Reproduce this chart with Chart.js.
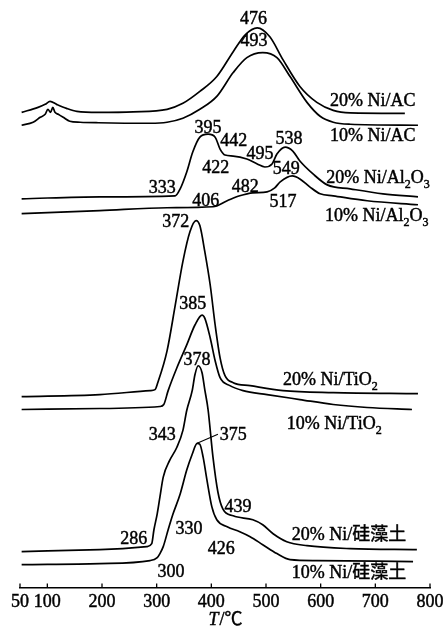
<!DOCTYPE html>
<html>
<head>
<meta charset="utf-8">
<script src="https://cdn.jsdelivr.net/npm/chart.js@4.4.1/dist/chart.umd.min.js"></script>
<style>
  html, body { margin: 0; padding: 0; background: #fff; }
  canvas { display: block; }
</style>
</head>
<body>
<canvas id="tpr-chart" width="448" height="634"></canvas>
<script>
// x axis ticks (deg C)
const xTicks = [50, 100, 200, 300, 400, 500, 600, 700, 800];

// H2-TPR signals, a.u. above each curve's own baseline
const tAC20 = [53, 83, 96, 105, 117, 135, 154, 193, 257, 319, 348, 379, 410, 440, 462, 484, 507, 531, 562, 593, 623, 654, 754];
const sAC20 = [0, 5, 8, 11, 8, 4, 1, 0, 0.5, 3, 9, 21, 36, 61, 78, 85, 76, 53, 26, 10, 2, -0.5, -1];

const tAC10 = [53, 74, 87, 96, 101, 106, 110, 114, 120, 129, 141, 160, 193, 288, 319, 348, 379, 410, 440, 465, 494, 520, 544, 575, 599, 623, 654, 778];
const sAC10 = [0, 3, 8, 11, 16, 13, 18, 13, 11, 8, 4, 3, 2.5, 2, 3, 7, 16, 29, 53, 68, 73, 68, 49, 23, 9, 3, 1, 0];

const tAl20 = [53, 196, 334, 343, 355, 366, 379, 394, 407, 416, 425, 440, 465, 484, 498, 511, 520, 535, 549, 562, 586, 612, 654, 714, 778];
const sAl20 = [0, 2, 3, 10, 27, 47, 62, 65, 62, 50, 44, 43, 40, 35, 32, 35, 45, 52, 48, 38, 25, 14, 10, 5, 2];

const tAl10 = [53, 196, 319, 403, 429, 452, 476, 502, 516, 526, 548, 562, 580, 599, 623, 685, 778];
const sAl10 = [0, 3, 6, 7, 13, 18, 21, 22, 26, 32, 38, 35, 27, 20, 18, 13, 9];

const tTi20 = [53, 196, 288, 297, 302, 319, 334, 348, 361, 372, 379, 388, 398, 407, 416, 425, 440, 471, 531, 623, 778];
const sTi20 = [0, 2, 6, 7, 14, 46, 92, 136, 166, 177, 172, 146, 112, 72, 39, 21, 14, 11, 6, 4, 3];

const tTi10 = [53, 196, 306, 313, 321, 337, 355, 370, 383, 388, 398, 407, 416, 434, 458, 502, 562, 623, 685, 767];
const sTi10 = [0, 1, 3, 5, 19, 42, 65, 85, 95, 92, 72, 49, 32, 24, 19, 15, 10, 5, 2, 0];

const tDi20 = [53, 196, 282, 291, 295, 301, 306, 312, 324, 337, 348, 355, 365, 370, 376, 383, 388, 394, 403, 412, 421, 440, 476, 494, 513, 538, 575, 654, 776];
const sDi20 = [0, 2, 5, 8, 22, 38, 55, 75, 92, 105, 122, 142, 162, 178, 187, 180, 163, 143, 95, 60, 43, 36, 32, 27, 18, 10, 6, 3, 2];

const tDi10 = [53, 196, 288, 301, 306, 312, 321, 330, 343, 355, 365, 374, 379, 385, 392, 401, 410, 429, 452, 471, 494, 520, 544, 593, 769];
const sDi10 = [0, 1, 4, 7, 11, 18, 35, 51, 71, 95, 111, 122, 121, 108, 85, 58, 45, 38, 33, 28, 20, 11, 5, 4, 3];

// vertical stacking of the curves (a.u.)
const stackOffset = { AC20: 478, AC10: 465, Al20: 391, Al10: 376, Ti20: 192, Ti10: 179, Di20: 36, Di10: 23 };

// peak temperature labels: text, T, y
const peakLabels = [
  ['476', 477, 573], ['493', 478, 551],
  ['395', 394, 463], ['442', 441, 450], ['495', 489, 437], ['538', 542, 452],
  ['422', 408, 423], ['549', 537, 422], ['333', 310, 403],
  ['482', 462, 404], ['406', 390, 390], ['517', 531, 389],
  ['372', 335, 369], ['385', 366, 286], ['378', 374, 230],
  ['343', 310, 154], ['375', 440, 154], ['439', 449, 82],
  ['286', 258, 50], ['330', 359, 60], ['426', 418, 40], ['300', 326, 17]
];

// curve names, [text, subscript?] parts
const curveNames = [
  [[['20% Ni/AC', 0]], 617, 490],
  [[['10% Ni/AC', 0]], 617, 455],
  [[['20% Ni/Al', 0], ['2', 1], ['O', 0], ['3', 1]], 610, 413],
  [[['10% Ni/Al', 0], ['2', 1], ['O', 0], ['3', 1]], 608, 375],
  [[['20% Ni/TiO', 0], ['2', 1]], 531, 210],
  [[['10% Ni/TiO', 0], ['2', 1]], 538, 165],
  [[['20% Ni/硅藻土', 0]], 547, 54],
  [[['10% Ni/硅藻土', 0]], 547, 15]
];

const serif = '"Liberation Serif", "Noto Sans CJK SC", serif';

function series(t, s, off) {
  return t.map((x, i) => ({ x: x, y: s[i] + off }));
}

const curves = [
  ['20% Ni/AC', series(tAC20, sAC20, stackOffset.AC20)],
  ['10% Ni/AC', series(tAC10, sAC10, stackOffset.AC10)],
  ['20% Ni/Al2O3', series(tAl20, sAl20, stackOffset.Al20)],
  ['10% Ni/Al2O3', series(tAl10, sAl10, stackOffset.Al10)],
  ['20% Ni/TiO2', series(tTi20, sTi20, stackOffset.Ti20)],
  ['10% Ni/TiO2', series(tTi10, sTi10, stackOffset.Ti10)],
  ['20% Ni/硅藻土', series(tDi20, sDi20, stackOffset.Di20)],
  ['10% Ni/硅藻土', series(tDi10, sDi10, stackOffset.Di10)]
];

// filled + thin stroke, the scan looks a bit heavier than plain Times
function text(ctx, s, px, py) {
  ctx.fillText(s, px, py);
  ctx.strokeText(s, px, py);
}

// labels, inner ticks and the axis title are drawn here
const annotate = {
  id: 'annotate',
  afterDatasetsDraw(chart) {
    const { ctx, chartArea } = chart;
    const x = chart.scales.x, y = chart.scales.y;
    ctx.save();
    ctx.fillStyle = '#000';
    ctx.strokeStyle = '#000';

    // tick marks point up into the plot
    ctx.lineWidth = 1.3;
    xTicks.forEach(v => {
      const px = x.getPixelForValue(v);
      ctx.beginPath();
      ctx.moveTo(px, chartArea.bottom);
      ctx.lineTo(px, chartArea.bottom - 4);
      ctx.stroke();
    });

    // leader line from the 10% Ni/diatomite peak to its label
    ctx.lineWidth = 1.1;
    ctx.beginPath();
    ctx.moveTo(x.getPixelForValue(374), y.getPixelForValue(145));
    ctx.lineTo(x.getPixelForValue(412), y.getPixelForValue(154));
    ctx.stroke();

    ctx.lineWidth = 0.45;
    ctx.font = '18px ' + serif;
    ctx.textAlign = 'center';
    ctx.textBaseline = 'alphabetic';
    peakLabels.forEach(([txt, t, v]) => {
      text(ctx, txt, x.getPixelForValue(t), y.getPixelForValue(v) + 6);
    });

    ctx.textAlign = 'left';
    curveNames.forEach(([parts, t, v]) => {
      let px = x.getPixelForValue(t);
      const base = y.getPixelForValue(v) + 6;
      parts.forEach(([s, sub]) => {
        ctx.font = (sub ? '12px ' : '18px ') + serif;
        text(ctx, s, px, base + (sub ? 5 : 0));
        px += ctx.measureText(s).width;
      });
    });

    // axis title T/℃
    ctx.font = 'italic 18px ' + serif;
    const wT = ctx.measureText('T').width;
    ctx.font = '18px ' + serif;
    const wU = ctx.measureText('/℃').width;
    const left = (chartArea.left + chartArea.right) / 2 - (wT + wU) / 2;
    ctx.font = 'italic 18px ' + serif;
    text(ctx, 'T', left, 625);
    ctx.font = '18px ' + serif;
    text(ctx, '/℃', left + wT + 1, 625);
    ctx.restore();
  }
};

const ctx = document.getElementById('tpr-chart').getContext('2d');

new Chart(ctx, {
  type: 'line',
  data: {
    datasets: curves.map(([name, pts]) => ({
      label: name,
      data: pts,
      borderColor: '#000',
      borderWidth: 1.7,
      pointRadius: 0,
      fill: false,
      cubicInterpolationMode: 'monotone'
    }))
  },
  options: {
    responsive: false,
    animation: false,
    layout: { padding: { left: 20, right: 18, top: 0, bottom: 17 } },
    plugins: { legend: { display: false }, tooltip: { enabled: false } },
    scales: {
      x: {
        type: 'linear',
        min: 50,
        max: 800,
        afterBuildTicks: scale => { scale.ticks = xTicks.map(v => ({ value: v })); },
        grid: { display: false, drawTicks: false },
        border: { display: true, color: '#000', width: 1.5 },
        ticks: {
          color: '#000',
          textStrokeColor: '#000',
          textStrokeWidth: 0.45,
          padding: 4,
          maxRotation: 0,
          autoSkip: false,
          font: { family: serif, size: 18, lineHeight: 1.2 }
        }
      },
      y: {
        display: false,
        min: 0,
        max: 591
      }
    }
  },
  plugins: [annotate]
});
</script>
</body>
</html>
